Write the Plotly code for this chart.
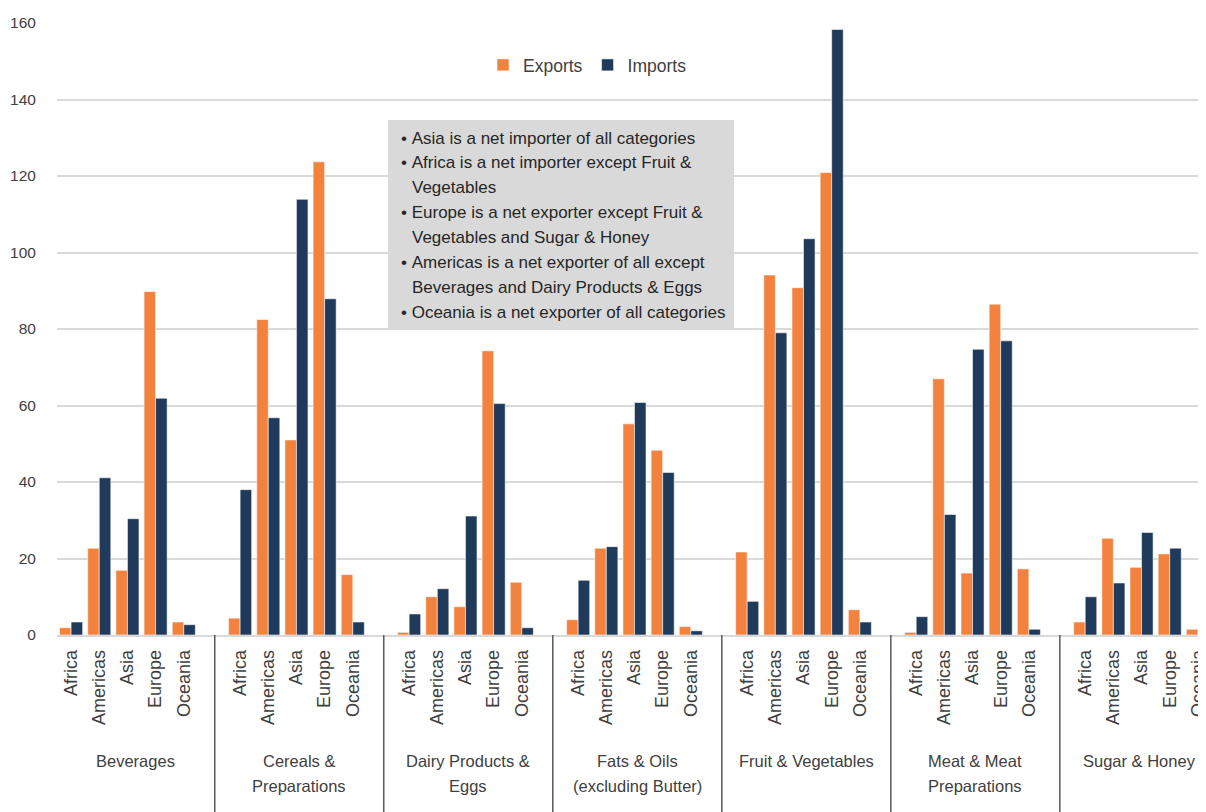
import plotly.graph_objects as go

# ---------------- data ----------------
categories = ["Beverages", "Cereals & Preparations", "Dairy Products & Eggs",
              "Fats & Oils (excluding Butter)", "Fruit & Vegetables",
              "Meat & Meat Preparations", "Sugar & Honey"]
category_lines = [["Beverages"], ["Cereals &", "Preparations"], ["Dairy Products &", "Eggs"],
                  ["Fats & Oils", "(excluding Butter)"], ["Fruit & Vegetables"],
                  ["Meat & Meat", "Preparations"], ["Sugar & Honey"]]
regions = ["Africa", "Americas", "Asia", "Europe", "Oceania"]

# values per category, in region order Africa, Americas, Asia, Europe, Oceania
exports = [
    1.9, 22.7, 16.9, 89.8, 3.4,      # Beverages
    4.4, 82.5, 51.0, 123.7, 15.8,    # Cereals & Preparations
    0.7, 10.0, 7.4, 74.3, 13.8,      # Dairy Products & Eggs
    4.0, 22.7, 55.2, 48.3, 2.2,      # Fats & Oils
    21.7, 94.1, 90.8, 120.9, 6.6,    # Fruit & Vegetables
    0.7, 67.0, 16.2, 86.5, 17.3,     # Meat & Meat Preparations
    3.4, 25.3, 17.7, 21.2, 1.5,      # Sugar & Honey
]
imports = [
    3.4, 41.1, 30.4, 61.9, 2.7,
    38.0, 56.8, 113.9, 87.9, 3.4,
    5.5, 12.1, 31.1, 60.5, 1.9,
    14.3, 23.1, 60.8, 42.5, 1.1,
    8.8, 79.0, 103.6, 158.3, 3.4,
    4.8, 31.5, 74.7, 76.9, 1.5,
    10.0, 13.6, 26.8, 22.7, 0.7,
]
y_ticks = [0, 20, 40, 60, 80, 100, 120, 140, 160]

notes = [
    ["Asia is a net importer of all categories"],
    ["Africa is a net importer except Fruit &", "Vegetables"],
    ["Europe is a net exporter except Fruit &", "Vegetables and Sugar & Honey"],
    ["Americas is a net exporter of all except", "Beverages and Dairy Products & Eggs"],
    ["Oceania is a net exporter of all categories"],
]

# ---------------- layout helpers ----------------
slots = len(regions) + 1          # one blank slot after every category
xs, xlabels = [], []
for g in range(len(categories)):
    for r, reg in enumerate(regions):
        xs.append(g * slots + r)
        xlabels.append(reg)

ORANGE = "#F4823F"
NAVY = "#1F3A5A"
TEXT = "#404040"
FONT = "Liberation Sans, Arial, sans-serif"

OFF = 8                      # page body margin
W, H = 1206 - OFF, 812 - OFF
ml, mr, mt = 57 - OFF, 0, 23 - OFF
mb = H - (635 - OFF)
plot_w = W - ml - mr
plot_h = H - mt - mb
slot_px = 28.17
x_end = -0.5 + plot_w / slot_px


def px(xp):   # page x pixel -> paper
    return (xp - OFF - ml) / plot_w


def py(yp):   # page y pixel -> paper
    return ((H - mb) - (yp - OFF)) / plot_h


fig = go.Figure()
fig.add_trace(go.Bar(x=xs, y=exports, name="Exports", marker_color=ORANGE,
                     marker_line=dict(color="rgba(255,255,255,0.55)", width=1)))
fig.add_trace(go.Bar(x=xs, y=imports, name="Imports", marker_color=NAVY,
                     marker_line=dict(color="rgba(255,255,255,0.55)", width=1)))

shapes = []
annotations = []
bounds = [-0.5] + [k * slots - 0.9 for k in range(1, len(categories))] + [x_end + 0.5]
for k in range(1, len(categories)):
    xd = bounds[k]
    shapes.append(dict(type="line", xref="x", yref="paper", x0=xd, x1=xd,
                       y0=0, y1=-mb / plot_h, line=dict(color="#595959", width=1.5)))
for g, lab_lines in enumerate(category_lines):
    xc = (bounds[g] + bounds[g + 1]) / 2
    for i, ln in enumerate(lab_lines):
        annotations.append(dict(text=ln, xref="x", yref="paper",
                                x=xc, y=py(761 + 25 * i),
                                xanchor="center", yanchor="middle", showarrow=False,
                                font=dict(family=FONT, size=16.5, color=TEXT)))

# note box
shapes.append(dict(type="rect", xref="paper", yref="paper",
                   x0=px(388), x1=px(734), y0=py(328), y1=py(120),
                   fillcolor="#D9D9D9", line=dict(width=0), layer="above"))
row = 0
for note in notes:
    for i, ln in enumerate(note):
        if i == 0:
            txt, xx = "\u2022\u00a0" + ln, 399
        else:
            txt, xx = ln, 410
        annotations.append(dict(text=txt, xref="paper", yref="paper",
                                x=px(xx), y=py(138 + 24.9 * row),
                                xanchor="left", yanchor="middle", showarrow=False,
                                font=dict(family=FONT, size=17, color="#262626")))
        row += 1

fig.update_layout(
    width=W, height=H,
    margin=dict(l=ml, r=mr, t=mt, b=mb, autoexpand=False),
    paper_bgcolor="white", plot_bgcolor="white",
    barmode="group", bargap=0.18, bargroupgap=0,
    showlegend=True,
    legend=dict(orientation="h", x=px(483), y=py(65),
                xanchor="left", yanchor="middle", bgcolor="rgba(0,0,0,0)",
                font=dict(family=FONT, size=17.5, color=TEXT), traceorder="normal"),
    shapes=shapes, annotations=annotations,
    font=dict(family=FONT, color=TEXT),
)
fig.update_xaxes(range=[-0.5, x_end], tickmode="array", tickvals=xs, ticktext=xlabels,
                 tickangle=-90, tickfont=dict(family=FONT, size=18, color=TEXT),
                 ticks="outside", ticklen=6, tickcolor="rgba(0,0,0,0)",
                 ticklabeloverflow="allow",
                 showgrid=False, zeroline=False, showline=True, linecolor="#D9D9D9",
                 linewidth=1.5, fixedrange=True)
fig.update_yaxes(range=[0, 160], tickmode="array", tickvals=y_ticks,
                 tickfont=dict(family=FONT, size=15.5, color=TEXT),
                 ticks="outside", ticklen=17, tickcolor="rgba(0,0,0,0)",
                 showgrid=True, gridcolor="#D9D9D9", gridwidth=1.5,
                 zeroline=False, showline=False, fixedrange=True)

fig.write_html("out.html")
